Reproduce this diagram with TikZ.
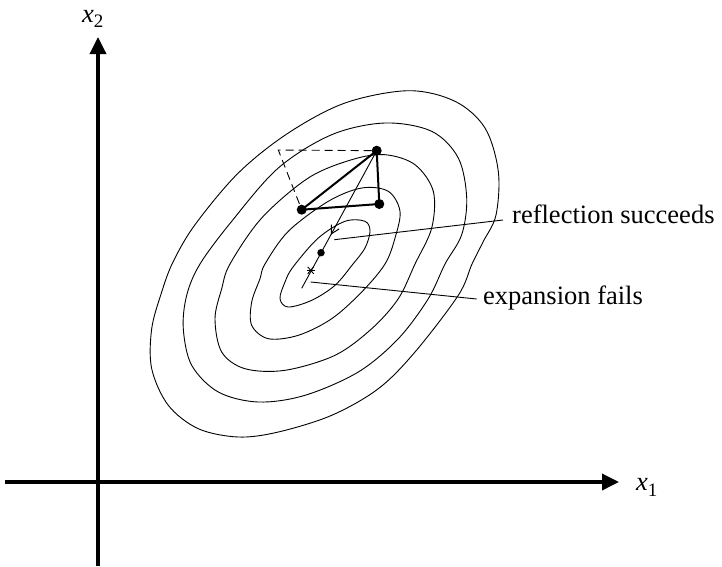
\documentclass[tikz,border=0pt]{standalone}
\usepackage{fontspec}
\setmainfont{Liberation Serif}
\usetikzlibrary{arrows.meta,decorations.markings}
\begin{document}
\begin{tikzpicture}[x=1pt,y=-1pt,
  axis/.style={line width=3.5pt,-{Triangle[length=17pt,width=16pt]}},
  contour/.style={line width=0.9pt,smooth cycle,tension=0.55},
  simplexedge/.style={line width=2pt,line join=round},
  dashedge/.style={line width=0.9pt,dash pattern=on 8pt off 5pt},
  thinline/.style={line width=0.9pt},
  leader/.style={line width=0.9pt},
  dot/.style={circle,fill=black,draw=none,inner sep=0pt,minimum size=10pt},
  smalldot/.style={dot,minimum size=7.5pt},
  lbl/.style={font=\fontsize{26.5}{30}\selectfont,inner sep=0pt}
]
\useasboundingbox (0,0) rectangle (722,566);

% axes
\coordinate (xa) at (5,482);
\coordinate (xb) at (619,482);
\coordinate (ya) at (98,566);
\coordinate (yb) at (98,37);
\draw[axis] (xa) -- (xb);
\draw[axis] (ya) -- (yb);
\node[lbl,anchor=base west] (x1lbl) at (636,490) {\textit{x}\raisebox{-6pt}{\fontsize{19}{19}\selectfont 1}};
\node[lbl,anchor=base west] (x2lbl) at (82,22) {\textit{x}\raisebox{-5pt}{\fontsize{19}{19}\selectfont 2}};

% contours
\draw[thinline] plot[contour] coordinates {(345,221.3) (365,221.3) (370,231.3) (365,248) (353,264) (335,285.3) (311.7,300.3) (288.3,307) (280,298.7) (285,282) (293,267) (318.3,238)};
\draw[thinline] plot[contour] coordinates {(361.7,188) (388.3,191.3) (400,211.3) (395,238) (385,264) (361.7,292) (331.7,318.7) (298.3,335.3) (268.3,338.7) (251.7,325.3) (251.7,302) (260,278.7) (265,264) (288.3,231.3) (328.3,201.3)};
\draw[thinline] plot[contour] coordinates {(385,154.7) (415,164.7) (433.3,191.3) (431.7,228) (415,264) (398.3,298.7) (371.7,328.7) (335,355.3) (285,370.3) (245,368.7) (221.7,352) (215,318.7) (221.7,288.7) (230,264) (261.7,218) (308.3,178) (351.7,159.7)};
\draw[thinline] plot[contour] coordinates {(385,123) (431.7,131.3) (458.3,158) (466.7,198) (461.7,234.7) (445,264) (428.3,298.7) (398.3,338.7) (358.3,372) (305,395.3) (258.3,402) (218.3,392) (191.7,365.3) (183.3,328.7) (186.7,295.3) (200,264) (231.7,221.3) (278.3,168) (331.7,134.7)};
\draw[thinline] plot[contour] coordinates {(408.3,90.7) (455,101.3) (485,128) (498.3,171.3) (496,215) (483,242) (472,264) (458.3,295.3) (415,352) (378.3,388.7) (331.7,415.3) (278.3,432) (238.3,437) (198.3,428.7) (168.3,405.3) (151.7,368.7) (151.7,328.7) (161.7,292) (173,262) (195,224.7) (238.3,173) (288.3,133) (345,103)};

% simplex
\node[dot] (P1) at (376.7,150.7) {};
\node[dot] (P2) at (379.3,204) {};
\node[dot] (P3) at (301.7,209.7) {};
\node[smalldot] (R) at (321,252.7) {};
\coordinate (D) at (278.3,150);
\coordinate (S) at (310.7,270.3);
\coordinate (E) at (301.7,288.3);

\draw[simplexedge] (P1.center) -- (P2.center) -- (P3.center) -- cycle;
\draw[dashedge] (P1) -- (D) -- (P3);
\draw[thinline,postaction={decorate},
  decoration={markings,mark=at position 0.61 with {\arrow{Straight Barb[length=8pt,width=9pt,line width=1pt]}}}]
  (P1.center) -- (E);

% star marker
\draw[thinline] ([shift={(-4,0)}]S) -- ([shift={(4,0)}]S);
\draw[thinline] ([shift={(-3,-3.5)}]S) -- ([shift={(3,3.5)}]S);
\draw[thinline] ([shift={(3,-3.5)}]S) -- ([shift={(-3,3.5)}]S);

% labels with leaders
\node[lbl,anchor=base west] (refl) at (512,223) {reflection succeeds};
\node[lbl,anchor=base west] (expf) at (483,304) {expansion fails};
\coordinate (reflstart) at (334.3,239.7);
\coordinate (reflend) at (503,220);
\coordinate (expstart) at (310.7,282);
\coordinate (expend) at (476.7,299);
\draw[leader] (reflstart) -- (reflend);
\draw[leader] (expstart) -- (expend);
\end{tikzpicture}
\end{document}
